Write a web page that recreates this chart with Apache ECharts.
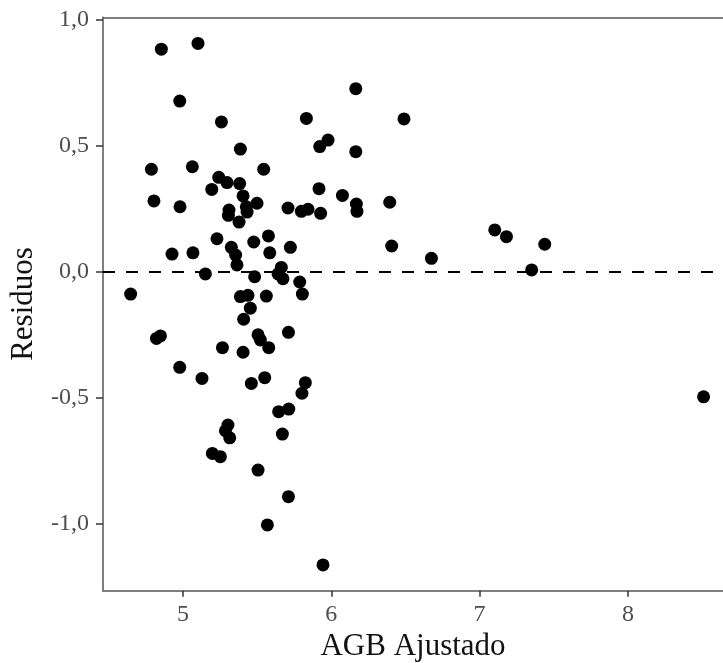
<!DOCTYPE html>
<html>
<head>
<meta charset="utf-8">
<script src="https://cdn.jsdelivr.net/npm/echarts@6/dist/echarts.min.js"></script>
<style>
html,body{margin:0;padding:0;background:#fff;}
#chart{width:723px;height:663px;}
</style>
</head>
<body>
<div id="chart"></div>
<script>
const agbAjustado = [
  4.854, 5.101, 4.978, 5.259, 5.832, 6.165, 5.387, 5.922, 5.978, 6.165,
  4.787, 5.063, 5.544, 4.804, 4.980, 5.194, 5.241, 5.297, 5.382, 5.405,
  5.427, 5.499, 5.310, 5.306, 5.432, 5.378, 5.917, 6.075, 5.708, 5.798,
  5.843, 5.928, 6.169, 6.173, 5.229, 5.326, 5.355, 5.364, 5.477, 5.576,
  5.585, 5.724, 4.926, 5.067, 5.151, 4.647, 5.483, 5.663, 5.641, 5.674,
  5.787, 5.805, 5.387, 5.438, 5.562, 5.454, 5.409, 4.821, 4.848, 5.266,
  5.405, 5.506, 5.522, 5.578, 5.711, 4.978, 5.128, 5.461, 5.551, 5.825,
  5.802, 5.645, 5.713, 5.303, 5.286, 5.315, 5.670, 5.198, 5.252, 5.506,
  5.711, 5.569, 5.944, 6.490, 6.394, 6.407, 6.675, 7.102, 7.181, 7.439,
  7.351, 8.510
];
const residuos = [
  0.884, 0.907, 0.678, 0.595, 0.609, 0.727, 0.487, 0.497, 0.523, 0.477,
  0.407, 0.417, 0.407, 0.281, 0.258, 0.327, 0.375, 0.354, 0.350, 0.301,
  0.258, 0.272, 0.245, 0.224, 0.237, 0.197, 0.330, 0.303, 0.253, 0.240,
  0.248, 0.232, 0.269, 0.240, 0.131, 0.097, 0.066, 0.027, 0.118, 0.142,
  0.075, 0.097, 0.070, 0.075, -0.009, -0.089, -0.020, 0.017, -0.009, -0.028,
  -0.041, -0.089, -0.099, -0.094, -0.097, -0.145, -0.189, -0.265, -0.255, -0.302,
  -0.320, -0.251, -0.271, -0.302, -0.241, -0.380, -0.424, -0.444, -0.421, -0.441,
  -0.483, -0.556, -0.546, -0.609, -0.632, -0.660, -0.645, -0.722, -0.735, -0.788,
  -0.894, -1.006, -1.165, 0.607, 0.276, 0.102, 0.053, 0.166, 0.139, 0.109,
  0.007, -0.497
];
const xTicks = [5, 6, 7, 8];
const yTicks = [-1, -0.5, 0, 0.5, 1];
const xTitle = 'AGB Ajustado';
const yTitle = 'Residuos';

const points = agbAjustado.map((x, i) => [x, residuos[i]]);
const fmt = v => (Math.round(v * 10) / 10).toFixed(1).replace('.', ',');
const serif = 'Liberation Serif';
const xMin = 4.4606, xMax = 8.641;

const chart = echarts.init(document.getElementById('chart'), null, {renderer: 'canvas'});
chart.setOption({
  animation: false,
  backgroundColor: '#fff',
  grid: {left: 103, top: 17.3, bottom: 72.3, right: 0, show: false, containLabel: false, outerBoundsMode: 'none'},
  xAxis: [{
    type: 'value', min: xMin, max: xMax, position: 'bottom',
    name: xTitle, nameLocation: 'middle', nameGap: 40,
    nameTextStyle: {fontFamily: serif, fontSize: 31, color: '#111'},
    axisLine: {show: true, onZero: false, lineStyle: {color: '#555', width: 1.5}},
    axisTick: {show: true, length: 6, customValues: xTicks, lineStyle: {color: '#333', width: 1.5}},
    axisLabel: {customValues: xTicks, margin: 12, fontFamily: serif, fontSize: 24, color: '#4d4d4d', formatter: v => String(v)},
    splitLine: {show: false}
  }, {
    type: 'value', min: xMin, max: xMax, position: 'top',
    axisLine: {show: true, onZero: false, lineStyle: {color: '#555', width: 1.5}},
    axisTick: {show: false}, axisLabel: {show: false}, splitLine: {show: false}
  }],
  yAxis: {
    type: 'value', min: -1.2674, max: 1.0107,
    name: yTitle, nameLocation: 'middle', nameGap: 64, nameRotate: 90,
    nameTextStyle: {fontFamily: serif, fontSize: 31, color: '#111'},
    axisLine: {show: true, onZero: false, lineStyle: {color: '#555', width: 1.5}},
    axisTick: {show: true, length: 7, customValues: yTicks, lineStyle: {color: '#333', width: 1.5}},
    axisLabel: {customValues: yTicks, margin: 14, fontFamily: serif, fontSize: 24, color: '#4d4d4d', formatter: fmt},
    splitLine: {show: false}
  },
  series: [{
    type: 'scatter',
    xAxisIndex: 0,
    data: points,
    symbol: 'circle',
    symbolSize: 13,
    itemStyle: {color: '#000', opacity: 1},
    markLine: {
      silent: true,
      symbol: 'none',
      label: {show: false},
      lineStyle: {color: '#000', width: 2.2, type: [12, 11]},
      data: [{yAxis: 0}]
    },
    z: 3
  }]
});
</script>
</body>
</html>
